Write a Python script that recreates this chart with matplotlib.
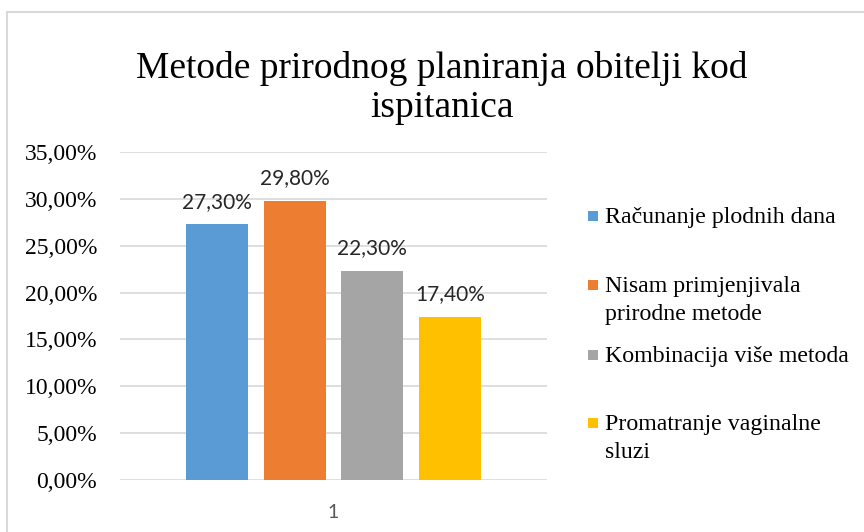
import matplotlib
matplotlib.use("Agg")
import matplotlib.pyplot as plt
from matplotlib.patches import Rectangle
from matplotlib.lines import Line2D

categories = ["Računanje plodnih dana",
              "Nisam primjenjivala\nprirodne metode",
              "Kombinacija više metoda",
              "Promatranje vaginalne\nsluzi"]
values = [27.30, 29.80, 22.30, 17.40]
colors = ["#5B9BD5", "#ED7D31", "#A5A5A5", "#FFC000"]
yticks = [0, 5, 10, 15, 20, 25, 30, 35]
ytick_labels = ["0,00%", "5,00%", "10,00%", "15,00%", "20,00%", "25,00%", "30,00%", "35,00%"]
xlabel_cat = "1"
title_lines = ["Metode prirodnog planiranja obitelji kod", "ispitanica"]

W, H = 864, 532
fig = plt.figure(figsize=(W/100, H/100), dpi=100)
fig.patch.set_facecolor("white")

# outer border (top & left visible)
fig.add_artist(Line2D([7/W, 7/W], [0, 1-12/H], transform=fig.transFigure, color="#D9D9D9", lw=1.5))
fig.add_artist(Line2D([7/W, 1], [1-12/H, 1-12/H], transform=fig.transFigure, color="#D9D9D9", lw=1.5))

left, right = 120/W, 547/W
bottom, top = 1-480/H, 1-152/H
ax = fig.add_axes([left, bottom, right-left, top-bottom])
ax.set_xlim(-0.5, 0.5)
ax.set_ylim(0, 35)
for s in ax.spines.values():
    s.set_visible(False)
ax.set_yticks(yticks)
ax.set_yticklabels(ytick_labels, family="Liberation Serif", fontsize=17, color="black")
ax.tick_params(axis="y", length=0, pad=16.5)
ax.set_xticks([0])
ax.set_xticklabels([xlabel_cat], family="Lato", fontsize=14, color="#595959")
ax.tick_params(axis="x", length=0, pad=17)
ax.grid(axis="y", color="#D9D9D9", lw=1.2)
ax.set_axisbelow(True)

bw = 62/427
step = 77.5/427
offsets = [(i - 1.5)*step for i in range(len(values))]
bars = ax.bar(offsets, values, width=bw, color=colors, zorder=2)
for b, v in zip(bars, values):
    ax.annotate(f"{v:.2f}%".replace(".", ","), (b.get_x()+b.get_width()/2, v),
                xytext=(0, 9), textcoords="offset points", ha="center", va="bottom",
                family="Lato", fontsize=15, color="#262626")

for i, line in enumerate(title_lines):
    fig.text(442/W, 1-(78 + i*39)/H, line, ha="center", va="baseline",
             family="Liberation Serif", fontsize=27, color="black")

# legend
leg_base = [223, 292, 362, 430]
for cat, col, yb in zip(categories, colors, leg_base):
    fig.add_artist(Rectangle((588/W, 1-(yb-2)/H), 10/W, 10/H, transform=fig.transFigure,
                             facecolor=col, edgecolor="none"))
    for j, line in enumerate(cat.split("\n")):
        fig.text(605/W, 1-(yb + j*28)/H, line, ha="left", va="baseline",
                 family="Liberation Serif", fontsize=17.2, color="black")

fig.savefig("out.png", dpi=100)
